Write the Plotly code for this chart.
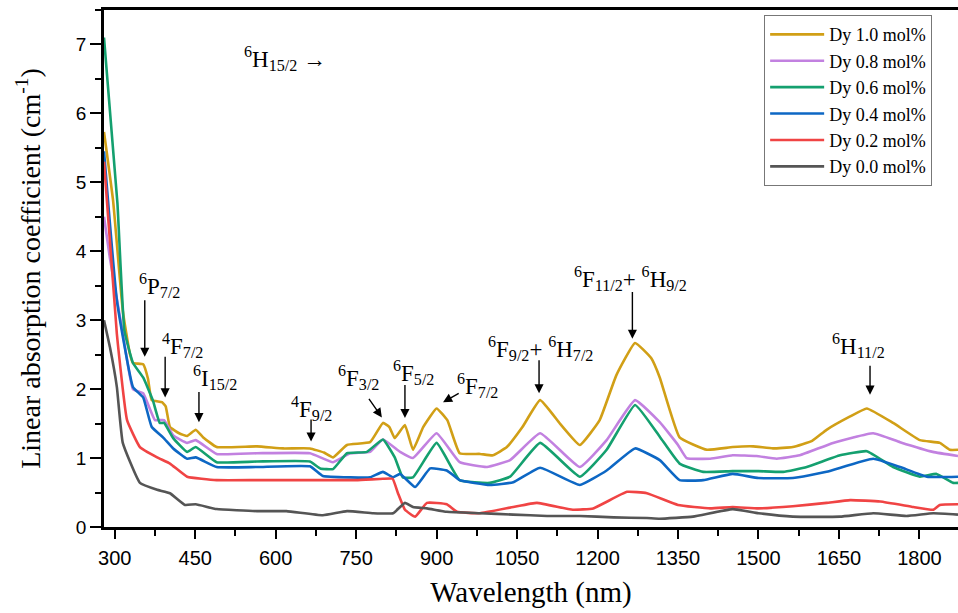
import plotly.graph_objects as go

# ---- data ----
labels = ["Dy 1.0 mol%", "Dy 0.8 mol%", "Dy 0.6 mol%", "Dy 0.4 mol%", "Dy 0.2 mol%", "Dy 0.0 mol%"]
colors = ["#d19f16", "#c281e0", "#14a06f", "#0d67c4", "#f04444", "#555555"]

x_dy10 = [280, 297, 315, 328, 334, 353, 362, 369, 388, 395, 403, 420, 435, 451, 465, 490, 565, 614, 664, 690, 707, 733, 776, 800, 812, 822, 841, 856, 875, 900, 920, 943, 981, 1005, 1031, 1060, 1093, 1130, 1167, 1204, 1235, 1270, 1300, 1316, 1353, 1404, 1452, 1490, 1527, 1564, 1600, 1627, 1670, 1702, 1751, 1801, 1838, 1857, 1872]
y_dy10 = [5.73, 4.73, 3.14, 2.52, 2.38, 2.36, 2.15, 1.84, 1.81, 1.75, 1.45, 1.36, 1.32, 1.41, 1.30, 1.16, 1.17, 1.14, 1.14, 1.08, 1.01, 1.19, 1.23, 1.51, 1.45, 1.29, 1.48, 1.12, 1.45, 1.72, 1.55, 1.07, 1.06, 1.04, 1.16, 1.45, 1.84, 1.50, 1.19, 1.55, 2.20, 2.67, 2.45, 2.17, 1.30, 1.12, 1.16, 1.17, 1.14, 1.16, 1.25, 1.41, 1.60, 1.72, 1.51, 1.26, 1.22, 1.12, 1.12]

x_dy08 = [280, 291, 315, 334, 353, 375, 392, 409, 435, 451, 490, 565, 664, 707, 739, 776, 800, 832, 856, 900, 943, 994, 1037, 1093, 1167, 1217, 1270, 1316, 1350, 1366, 1410, 1452, 1496, 1534, 1577, 1639, 1714, 1764, 1825, 1872]
y_dy08 = [4.50, 3.90, 2.81, 2.00, 1.94, 1.55, 1.55, 1.33, 1.22, 1.26, 1.06, 1.07, 1.07, 0.94, 1.07, 1.09, 1.27, 1.09, 1.00, 1.36, 0.94, 0.87, 0.97, 1.36, 0.87, 1.26, 1.84, 1.52, 1.19, 1.00, 0.99, 1.04, 1.03, 0.99, 1.04, 1.22, 1.36, 1.23, 1.09, 1.03]

x_dy06 = [280, 305, 318, 334, 353, 371, 384, 392, 409, 435, 451, 490, 565, 664, 683, 707, 733, 770, 800, 822, 837, 856, 900, 943, 999, 1037, 1093, 1167, 1217, 1270, 1316, 1353, 1397, 1452, 1500, 1546, 1590, 1652, 1702, 1751, 1801, 1832, 1863, 1872]
y_dy06 = [7.10, 4.70, 2.85, 2.38, 2.17, 1.84, 1.51, 1.51, 1.29, 1.09, 1.16, 0.94, 0.95, 0.95, 0.85, 0.84, 1.07, 1.09, 1.27, 1.01, 0.72, 0.72, 1.22, 0.68, 0.64, 0.73, 1.22, 0.73, 1.12, 1.77, 1.31, 0.92, 0.80, 0.81, 0.81, 0.80, 0.87, 1.04, 1.10, 0.87, 0.73, 0.77, 0.64, 0.64]

x_dy04 = [280, 304, 334, 353, 369, 390, 409, 435, 451, 490, 565, 664, 688, 739, 776, 800, 819, 832, 860, 888, 919, 943, 999, 1043, 1093, 1167, 1217, 1270, 1316, 1353, 1397, 1452, 1500, 1564, 1627, 1714, 1764, 1814, 1872]
y_dy04 = [5.45, 3.29, 2.03, 1.88, 1.45, 1.30, 1.14, 0.99, 1.01, 0.87, 0.87, 0.88, 0.74, 0.72, 0.72, 0.80, 0.72, 0.77, 0.58, 0.85, 0.82, 0.68, 0.61, 0.65, 0.86, 0.61, 0.82, 1.14, 0.97, 0.68, 0.68, 0.77, 0.71, 0.71, 0.80, 0.99, 0.87, 0.73, 0.73]

x_dy02 = [280, 304, 323, 347, 379, 403, 435, 490, 565, 664, 750, 800, 818, 828, 841, 860, 882, 919, 938, 981, 1043, 1087, 1154, 1192, 1255, 1292, 1350, 1410, 1452, 1500, 1564, 1627, 1671, 1727, 1789, 1826, 1838, 1872]
y_dy02 = [5.30, 2.80, 1.55, 1.16, 1.01, 0.92, 0.73, 0.68, 0.68, 0.68, 0.68, 0.70, 0.70, 0.49, 0.25, 0.15, 0.35, 0.33, 0.22, 0.20, 0.29, 0.35, 0.25, 0.27, 0.51, 0.49, 0.32, 0.27, 0.29, 0.27, 0.30, 0.35, 0.39, 0.37, 0.29, 0.25, 0.32, 0.33]

x_dy00 = [280, 291, 304, 315, 347, 379, 403, 431, 451, 490, 565, 620, 688, 733, 782, 819, 841, 856, 882, 919, 981, 1043, 1106, 1167, 1230, 1292, 1316, 1378, 1452, 1500, 1564, 1652, 1714, 1776, 1826, 1872]
y_dy00 = [3.00, 2.61, 2.03, 1.22, 0.64, 0.54, 0.49, 0.32, 0.33, 0.26, 0.23, 0.23, 0.17, 0.23, 0.20, 0.20, 0.35, 0.29, 0.27, 0.22, 0.20, 0.18, 0.16, 0.16, 0.14, 0.13, 0.12, 0.15, 0.26, 0.20, 0.15, 0.15, 0.20, 0.16, 0.20, 0.18]

xs = [x_dy10, x_dy08, x_dy06, x_dy04, x_dy02, x_dy00]
ys = [y_dy10, y_dy08, y_dy06, y_dy04, y_dy02, y_dy00]

x_ticks = [300, 450, 600, 750, 900, 1050, 1200, 1350, 1500, 1650, 1800]
y_ticks = [0, 1, 2, 3, 4, 5, 6, 7]

# transition labels: (text, text_x, text_y)
trans_labels = [
    ("<sup>6</sup>H<sub>15/2</sub> \u2192", 617, 6.80),
    ("<sup>6</sup>P<sub>7/2</sub>", 383, 3.50),
    ("<sup>4</sup>F<sub>7/2</sub>", 427, 2.63),
    ("<sup>6</sup>I<sub>15/2</sub>", 486, 2.17),
    ("<sup>4</sup>F<sub>9/2</sub>", 666, 1.72),
    ("<sup>6</sup>F<sub>3/2</sub>", 755, 2.17),
    ("<sup>6</sup>F<sub>5/2</sub>", 857, 2.24),
    ("<sup>6</sup>F<sub>7/2</sub>", 976, 2.05),
    ("<sup>6</sup>F<sub>9/2</sub>+ <sup>6</sup>H<sub>7/2</sub>", 1093, 2.59),
    ("<sup>6</sup>F<sub>11/2</sub>+ <sup>6</sup>H<sub>9/2</sub>", 1261, 3.60),
    ("<sup>6</sup>H<sub>11/2</sub>", 1686, 2.63),
]
# arrows: (tail_x, tail_y, head_x, head_y)
arrows = [
    (356, 3.31, 356, 2.47),
    (394, 2.49, 394, 1.88),
    (457, 1.98, 457, 1.52),
    (666, 1.58, 666, 1.24),
    (772, 1.88, 798, 1.59),
    (841, 2.08, 841, 1.58),
    (944, 1.95, 912, 1.81),
    (1091, 2.44, 1091, 1.94),
    (1265, 3.43, 1265, 2.73),
    (1708, 2.36, 1708, 1.92),
]

serif = "Liberation Serif, Times New Roman, serif"
sans = "Liberation Sans, Arial, sans-serif"

fig = go.Figure()
for lab, col, xv, yv in zip(labels, colors, xs, ys):
    fig.add_trace(go.Scatter(x=xv, y=yv, mode="lines", name=lab,
                             line=dict(color=col, width=2.6, shape="spline", smoothing=0.35)))

for txt, tx, ty in trans_labels:
    fig.add_annotation(x=tx, y=ty, text=txt, showarrow=False,
                       font=dict(family=serif, size=23, color="black"))
for tx0, ty0, hx, hy in arrows:
    fig.add_annotation(x=hx, y=hy, ax=tx0, ay=ty0, axref="x", ayref="y", text="",
                       showarrow=True, arrowhead=2, arrowsize=1.3, arrowwidth=1.4,
                       arrowcolor="black")

fig.update_layout(
    width=958, height=613,
    margin=dict(l=104, r=0, t=10, b=86),
    paper_bgcolor="white", plot_bgcolor="white",
    showlegend=True,
    legend=dict(x=0.773, xanchor="left", y=0.99, yanchor="top",
                bordercolor="#777777", borderwidth=1, bgcolor="white",
                itemwidth=54,
                font=dict(family=serif, size=18, color="black")),
    xaxis=dict(range=[280, 1872], tickvals=x_ticks, ticks="outside", ticklen=9, tickwidth=2,
               tickcolor="black", showline=True, linewidth=2.5, linecolor="black", mirror=True,
               showgrid=False, zeroline=False, automargin=False, ticklabelstandoff=2,
               tickfont=dict(family=sans, size=20, color="black"),
               minor=dict(dtick=75, tick0=300, ticks="outside", ticklen=6, tickwidth=2, tickcolor="black"),
               title=dict(text="Wavelength (nm)", font=dict(family=serif, size=29, color="black"), standoff=14)),
    yaxis=dict(range=[0, 7.5], tickvals=y_ticks, ticks="outside", ticklen=11, tickwidth=2,
               tickcolor="black", showline=True, linewidth=2.5, linecolor="black",
               showgrid=False, zeroline=False, automargin=False,
               tickfont=dict(family=sans, size=19, color="black"),
               minor=dict(dtick=0.5, tick0=0, ticks="outside", ticklen=6, tickwidth=2, tickcolor="black"),
               title=dict(text="Linear absorption coefficient (cm<sup>-1</sup>)",
                          font=dict(family=serif, size=28, color="black"), standoff=28)),
)

fig.write_html("out.html", config={"displayModeBar": False},
               post_script="document.body.style.margin='0px';")
